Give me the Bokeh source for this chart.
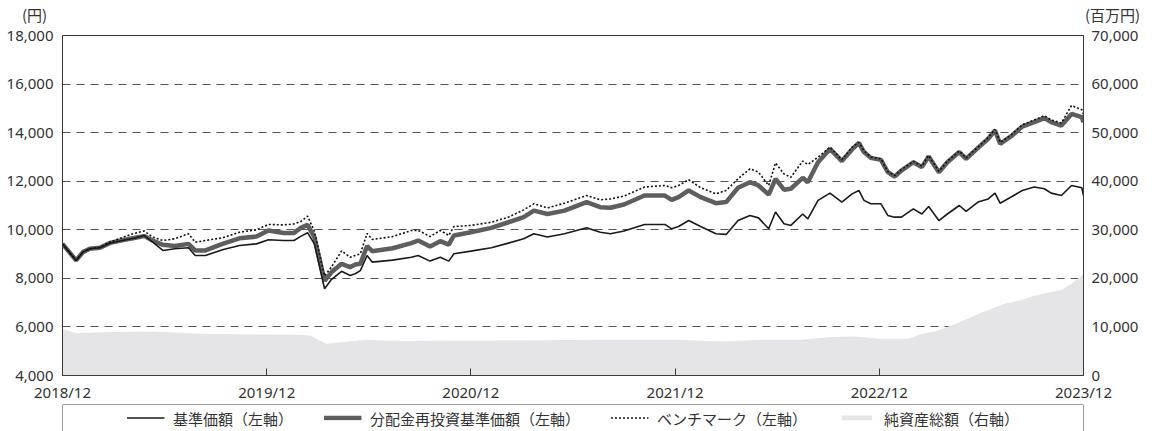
from bokeh.plotting import figure
from bokeh.models import (Range1d, LinearAxis, FixedTicker, NumeralTickFormatter,
                          Legend, LegendItem, ColumnDataSource, Span, Div)
from bokeh.layouts import column
from bokeh.embed import file_html
from bokeh.resources import INLINE

# ---- data (months since 2018/12) ----
months = [0.0, 0.4, 0.8, 1.2, 1.6, 2.2, 2.8, 3.5, 4.2, 4.8, 5.3, 5.9, 6.6, 7.4, 7.8, 8.4,
          9.4, 10.4, 11.4, 12.1, 13.0, 13.6, 14.0, 14.4, 14.8, 15.4, 15.8, 16.4, 16.9,
          17.2, 17.5, 17.9, 18.2, 19.4, 20.5, 20.9, 21.6, 22.2, 22.7, 23.0, 24.0, 25.2,
          26.2, 27.1, 27.7, 28.5, 29.5, 30.8, 31.6, 32.2, 33.0, 34.2, 35.4, 35.8, 36.2,
          36.8, 37.5, 38.4, 39.0, 39.7, 40.4, 40.9, 41.5, 41.9, 42.4, 42.8, 43.5, 43.8,
          44.4, 45.1, 45.8, 46.4, 46.8, 47.1, 47.5, 48.1, 48.5, 48.9, 49.3, 50.0, 50.5,
          50.9, 51.5, 52.0, 52.7, 53.1, 53.8, 54.4, 54.8, 55.1, 55.8, 56.4, 57.1, 57.7,
          58.1, 58.7, 59.3, 59.9, 60.0]
base_price = [9420, 9080, 8740, 9080, 9220, 9260, 9450, 9560, 9650, 9765, 9490, 9150, 9220,
              9260, 8940, 8940, 9180, 9350, 9420, 9590, 9560, 9560, 9730, 9880, 9420, 7570,
              7950, 8290, 8120, 8190, 8320, 8940, 8670, 8750, 8870, 8940, 8710, 8870, 8710,
              9010, 9120, 9260, 9450, 9630, 9835, 9700, 9835, 10080, 9900, 9835, 9950, 10220,
              10220, 10040, 10135, 10380, 10135, 9835, 9810, 10380, 10590, 10490, 10040,
              10730, 10250, 10180, 10650, 10450, 11210, 11510, 11140, 11480, 11620, 11210,
              11070, 11070, 10590, 10520, 10520, 10860, 10650, 10960, 10380, 10650, 11000,
              10760, 11140, 11270, 11510, 11095, 11370, 11620, 11760, 11690, 11510, 11410,
              11825, 11730, 11410]
reinvested = [9420, 9080, 8740, 9080, 9220, 9260, 9460, 9570, 9660, 9740, 9560, 9380, 9330,
              9420, 9150, 9150, 9420, 9650, 9720, 9970, 9870, 9870, 10080, 10200, 9700, 7900,
              8250, 8600, 8460, 8570, 8600, 9330, 9120, 9240, 9450, 9560, 9310, 9530, 9390,
              9765, 9900, 10080, 10310, 10520, 10790, 10650, 10790, 11140, 10930, 10910,
              11040, 11410, 11410, 11235, 11345, 11620, 11345, 11095, 11140, 11730, 11960,
              11825, 11450, 12100, 11650, 11690, 12140, 11960, 12785, 13330, 12830, 13310,
              13580, 13200, 12960, 12880, 12370, 12190, 12440, 12780, 12580, 13020, 12370,
              12780, 13200, 12920, 13370, 13750, 14090, 13540, 13880, 14250, 14430, 14600,
              14430, 14290, 14770, 14640, 14430]
benchmark = [9420, 9080, 8740, 9080, 9220, 9280, 9500, 9680, 9850, 9950, 9700, 9560, 9630,
             9835, 9490, 9560, 9670, 9900, 10000, 10220, 10200, 10240, 10340, 10560, 9950,
             8100, 8460, 9130, 8870, 8940, 9010, 9850, 9600, 9720, 9970, 9980, 9720, 9970,
             9765, 10135, 10180, 10310, 10520, 10820, 11070, 10900, 11095, 11410, 11235,
             11270, 11390, 11760, 11825, 11730, 11825, 12060, 11730, 11480, 11620, 12100,
             12510, 12370, 11825, 12750, 12300, 12160, 12830, 12690, 12990, 13400, 12880,
             13400, 13600, 13250, 13000, 12920, 12400, 12230, 12480, 12820, 12620, 13060,
             12410, 12820, 13240, 12960, 13410, 13800, 14140, 13600, 13940, 14320, 14520,
             14700, 14520, 14400, 15120, 14940, 14750]
nav_months = [0.0, 0.8, 2.2, 5.2, 8.1, 11.1, 14.0, 14.6, 15.1, 15.5, 16.4, 17.8, 19.9, 25.8,
              31.6, 36.0, 38.9, 41.2, 43.4, 45.2, 46.6, 48.0, 49.7, 50.4, 51.3, 52.5, 54.0,
              55.3, 56.3, 57.3, 58.7, 59.3, 60.0]
net_assets = [9610, 8710, 8920, 9060, 8580, 8440, 8370, 8240, 7210, 6520, 6860, 7350, 7100,
              7200, 7350, 7350, 7000, 7350, 7350, 7950, 8030, 7550, 7550, 8440, 9100, 10640,
              12900, 14700, 15500, 16600, 17600, 18880, 20900]
x_ticks = [0, 12, 24, 36, 48, 60]
x_tick_labels = ["2018/12", "2019/12", "2020/12", "2021/12", "2022/12", "2023/12"]
left_ticks = [4000, 6000, 8000, 10000, 12000, 14000, 16000, 18000]
right_ticks = [0, 10000, 20000, 30000, 40000, 50000, 60000, 70000]
legend_labels = ["基準価額（左軸）", "分配金再投資基準価額（左軸）", "ベンチマーク（左軸）", "純資産総額（右軸）"]
left_unit = "(円)"
right_unit = "(百万円)"

FONT = "Noto Sans"
JFONT = "Noto Sans CJK JP"
TXT = "#333333"
FRAME = "#3a3a3a"
AREA = "#e5e5e7"
GRAY = "#5e5e5e"
W = 1162

# ---- unit captions above the two value axes ----
caption_html = (
    f'<div style="position:relative;width:{W}px;height:25px;font-family:\'{JFONT}\';'
    f'font-size:15px;color:{TXT};">'
    f'<span style="position:absolute;left:22px;top:5px;line-height:20px;'
    f'white-space:nowrap;">{left_unit}</span>'
    f'<span style="position:absolute;left:1085px;top:5px;line-height:20px;'
    f'white-space:nowrap;">{right_unit}</span></div>'
)
top = Div(text=caption_html, width=W, height=25, margin=0)

# ---- main chart ----
p = figure(width=W, height=379, output_backend="svg", toolbar_location=None,
           x_range=Range1d(0, 60), y_range=Range1d(4000, 18000),
           min_border_left=62, min_border_right=79, min_border_top=10, min_border_bottom=29)
p.extra_y_ranges = {"nav": Range1d(0, 70000)}
p.outline_line_color = FRAME
p.outline_line_width = 1
p.xgrid.visible = False

lt = FixedTicker(ticks=left_ticks)
p.yaxis[0].ticker = lt
p.ygrid.ticker = lt
p.ygrid.grid_line_color = "#555555"
p.ygrid.grid_line_dash = "8 6"
p.ygrid.grid_line_width = 1

ly = p.yaxis[0]
ly.formatter = NumeralTickFormatter(format="0,0")
ly.major_tick_line_color = None
ly.minor_tick_line_color = None
ly.major_tick_out = 0
ly.major_tick_in = 0
ly.minor_tick_out = 0
ly.axis_line_color = FRAME
ly.major_label_standoff = 9
ly.major_label_text_font = FONT
ly.major_label_text_font_size = "15px"
ly.major_label_text_color = TXT

xa = p.xaxis[0]
xa.ticker = FixedTicker(ticks=x_ticks)
xa.major_label_overrides = {t: s for t, s in zip(x_ticks, x_tick_labels)}
xa.major_tick_in = 7
xa.major_tick_out = 0
xa.minor_tick_out = 0
xa.major_tick_line_color = FRAME
xa.minor_tick_line_color = None
xa.axis_line_color = FRAME
xa.major_label_standoff = 6
xa.major_label_text_font = FONT
xa.major_label_text_font_size = "15px"
xa.major_label_text_color = TXT

ra = LinearAxis(y_range_name="nav", ticker=FixedTicker(ticks=right_ticks),
                formatter=NumeralTickFormatter(format="0,0"))
ra.major_tick_line_color = None
ra.minor_tick_line_color = None
ra.major_tick_out = 0
ra.major_tick_in = 0
ra.minor_tick_out = 0
ra.axis_line_color = FRAME
ra.major_label_standoff = 8
ra.major_label_text_font = FONT
ra.major_label_text_font_size = "15px"
ra.major_label_text_color = TXT
p.add_layout(ra, "right")

p.varea(x=nav_months, y1=[0] * len(nav_months), y2=net_assets, y_range_name="nav",
        fill_color=AREA)
p.line(months, reinvested, line_color=GRAY, line_width=4.5)
p.line(months, base_price, line_color="#1a1a1a", line_width=1.6)
p.line(months, benchmark, line_color="#111111", line_width=1.6, line_dash="2 2")

# ---- legend box ----
lg = figure(width=W, height=27, output_backend="svg", toolbar_location=None,
            x_range=Range1d(0, 1), y_range=Range1d(0, 1),
            x_axis_location=None, y_axis_location=None,
            min_border_left=62, min_border_right=79, min_border_top=0, min_border_bottom=0)
lg.grid.visible = False
lg.outline_line_color = None
for loc, dim in [(0, "height"), (1, "height"), (1, "width")]:
    lg.add_layout(Span(location=loc, dimension=dim, line_color=FRAME, line_width=1))
# legend-only renderers: their points lie outside the visible range
dummy = ColumnDataSource(data=dict(x=[-3, -2], y=[-3, -2], y0=[-4, -4]))
r1 = lg.line("x", "y", source=dummy, line_color="#1a1a1a", line_width=1.6)
r2 = lg.line("x", "y", source=dummy, line_color=GRAY, line_width=4.5)
r3 = lg.line("x", "y", source=dummy, line_color="#111111", line_width=1.6, line_dash="2 2")
r4 = lg.varea("x", "y0", "y", source=dummy, fill_color=AREA)
leg = Legend(items=[LegendItem(label=legend_labels[0], renderers=[r1]),
                    LegendItem(label=legend_labels[1], renderers=[r2]),
                    LegendItem(label=legend_labels[2], renderers=[r3]),
                    LegendItem(label=legend_labels[3], renderers=[r4])],
             location="center", orientation="horizontal",
             border_line_alpha=0, background_fill_alpha=0,
             label_text_font=JFONT, label_text_font_size="15px", label_text_color=TXT,
             glyph_width=38, glyph_height=6, label_standoff=9, spacing=30,
             padding=0, margin=0, label_height=15)
lg.add_layout(leg, "center")

layout = column(top, p, lg, spacing=0)
open("out.html", "w").write(file_html(layout, INLINE))
